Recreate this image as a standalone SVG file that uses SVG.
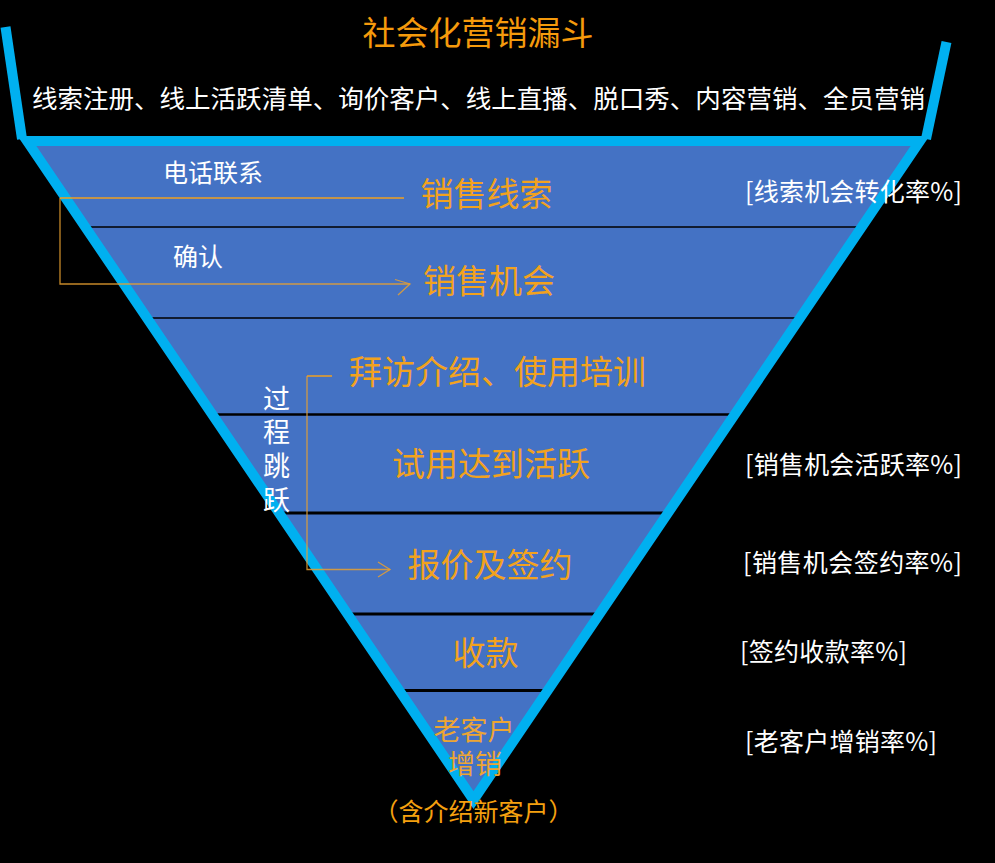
<svg xmlns="http://www.w3.org/2000/svg" width="995" height="863" viewBox="0 0 995 863">
  <style>
    text { font-family: "Noto Sans CJK SC", "Noto Sans", sans-serif; }
    .title { fill: #F59A0C; font-size: 33px; }
    .white { fill: #FFFFFF; }
    .stage { fill: #F2A21E; font-size: 33px; text-anchor: middle; }
    .small { fill: #EDA533; font-size: 27px; text-anchor: middle; font-family: "Liberation Sans", "Noto Sans CJK SC", sans-serif; }
    .rate { fill: #FFFFFF; font-size: 25px; }
    .div { stroke: #000000; fill: none; }
    .edge { stroke: #00B0F0; stroke-width: 10; fill: none; }
    .conn { stroke: #F0A020; stroke-width: 1.5; fill: none; }
    .conn2 { stroke: #E8A030; stroke-width: 1.3; fill: none; stroke-opacity: 0.85; }
  </style>
  <rect x="0" y="0" width="995" height="863" fill="#000000"/>

  <g id="funnel">
    <path d="M27,141 L920,141 L473.5,800 Z" fill="#4472C4"/>
    <line class="div" x1="85" y1="227" x2="862" y2="227" stroke-width="1.5"/>
    <line class="div" x1="147" y1="318" x2="800" y2="318" stroke-width="1.5"/>
    <line class="div" x1="212" y1="414.5" x2="735" y2="414.5" stroke-width="2.5"/>
    <line class="div" x1="279" y1="513" x2="668" y2="513" stroke-width="3"/>
    <line class="div" x1="347" y1="614" x2="600" y2="614" stroke-width="3"/>
    <line class="div" x1="399" y1="690.5" x2="548" y2="690.5" stroke-width="3"/>
    <path class="edge" d="M27,141 L920,141 L473.5,800 Z" stroke-linejoin="miter"/>
    <line class="edge" x1="5.5" y1="27" x2="22" y2="139"/>
    <line class="edge" x1="946.5" y1="42" x2="926" y2="139"/>
  </g>

  <g id="title">
    <text class="title" x="478" y="45" text-anchor="middle">社会化营销漏斗</text>
  </g>
  <g id="sources">
    <text class="white" x="478.5" y="108" font-size="25.5" text-anchor="middle" textLength="893" lengthAdjust="spacing">线索注册、线上活跃清单、询价客户、线上直播、脱口秀、内容营销、全员营销</text>
  </g>

  <g id="stage-leads">
    <text class="stage" x="486.5" y="206">销售线索</text>
  </g>
  <g id="stage-opportunity">
    <text class="stage" x="489" y="293">销售机会</text>
  </g>
  <g id="stage-visit">
    <text class="stage" x="497.5" y="384" font-size="33.5">拜访介绍、使用培训</text>
  </g>
  <g id="stage-trial">
    <text class="stage" x="491" y="476" font-size="33.5">试用达到活跃</text>
  </g>
  <g id="stage-quote">
    <text class="stage" x="490" y="577">报价及签约</text>
  </g>
  <g id="stage-payment">
    <text class="stage" x="485.5" y="665">收款</text>
  </g>
  <g id="stage-upsell">
    <text class="small"><tspan x="474" y="740">老客户</tspan><tspan x="475" y="774">增销</tspan></text>
  </g>
  <g id="note-referral">
    <text x="473.5" y="821" font-size="25" fill="#F5A00F" text-anchor="middle">（含介绍新客户）</text>
  </g>

  <g id="label-phone">
    <text class="white" x="213" y="181.5" font-size="25" text-anchor="middle">电话联系</text>
  </g>
  <g id="label-confirm">
    <text class="white" x="198" y="266" font-size="25" text-anchor="middle">确认</text>
  </g>
  <g id="label-skip">
    <text class="white" x="276.5" y="385" font-size="27" writing-mode="vertical-rl" letter-spacing="6.7">过程跳跃</text>
  </g>

  <g id="rates">
    <text class="rate" x="745" y="201" textLength="217" lengthAdjust="spacing">[线索机会转化率%]</text>
    <text class="rate" x="745" y="474" textLength="217" lengthAdjust="spacing">[销售机会活跃率%]</text>
    <text class="rate" x="743" y="572" textLength="219" lengthAdjust="spacing">[销售机会签约率%]</text>
    <text class="rate" x="740" y="661" textLength="167" lengthAdjust="spacing">[签约收款率%]</text>
    <text class="rate" x="745" y="751" textLength="192" lengthAdjust="spacing">[老客户增销率%]</text>
  </g>

  <g id="connectors">
    <line class="conn" x1="404" y1="198" x2="60" y2="198"/>
    <path class="conn2" d="M60,198 L60,284 L410,284"/>
    <path class="conn2" d="M395,279.5 L410,284 L398,295"/>
    <line class="conn" x1="332" y1="376" x2="307" y2="376"/>
    <path class="conn2" d="M307,376 L307,569.5 L390,569.5"/>
    <path class="conn2" d="M378,562 L390,569.5 L378,577"/>
  </g>
</svg>
